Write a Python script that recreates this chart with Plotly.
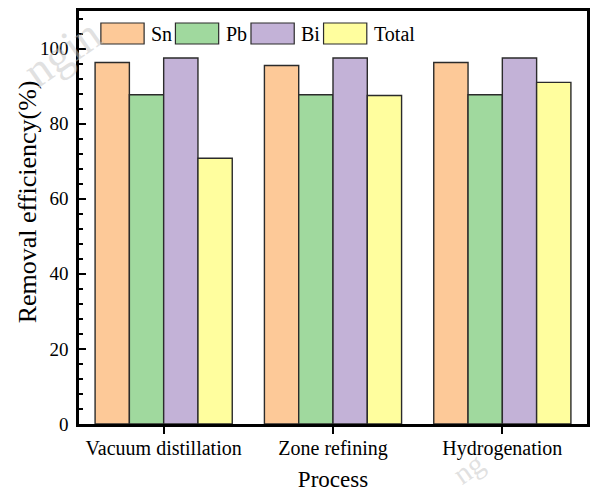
import plotly.graph_objects as go

# ---- data ----
processes = ["Vacuum distillation", "Zone refining", "Hydrogenation"]
sn = [96.3, 95.5, 96.3]
pb = [87.7, 87.7, 87.7]
bi = [97.5, 97.5, 97.5]
total = [70.8, 87.5, 91.0]
series_names = ["Sn", "Pb", "Bi", "Total"]
series_values = [sn, pb, bi, total]
colors = ["#FDC998", "#A0D99E", "#C3B2D7", "#FFFE9E"]
y_ticks = [0, 20, 40, 60, 80, 100]

W, H = 592, 494
L, R, T, B = 79, 2, 11, 70
PW, PH = W - L - R, H - T - B
FONT = "Liberation Serif, Times New Roman, serif"

fig = go.Figure()
for name, vals, c in zip(series_names, series_values, colors):
    fig.add_trace(go.Bar(
        x=processes, y=vals, name=name,
        marker=dict(color=c, line=dict(color="#2b2b2b", width=1.4)),
        showlegend=False,
    ))

def px2paper(x, y):
    return (x - L) / PW, (H - B - y) / PH

shapes = []
annotations = []
legend_x = [101, 176, 252, 325]
sw_w, y0p, y1p = 43.5, 23, 44
for name, c, lx in zip(series_names, colors, legend_x):
    xa, ya = px2paper(lx, y1p)
    xb, yb = px2paper(lx + sw_w, y0p)
    shapes.append(dict(type="rect", xref="paper", yref="paper",
                       x0=xa, y0=ya, x1=xb, y1=yb,
                       fillcolor=c, line=dict(color="#2b2b2b", width=1.2)))
    tx, ty = px2paper(lx + sw_w + 5, (y0p + y1p) / 2)
    annotations.append(dict(text=name, xref="paper", yref="paper", x=tx, y=ty,
                            xanchor="left", yanchor="middle", showarrow=False,
                            font=dict(family=FONT, size=20, color="black")))

# y-axis title as an annotation (positioned like the reference)
ytx, yty = px2paper(27, 202)
annotations.append(dict(text="Removal efficiency(%)", xref="paper", yref="paper",
                        x=ytx, y=yty, xanchor="center", yanchor="middle",
                        textangle=-90, showarrow=False,
                        font=dict(family=FONT, size=26, color="black")))

# faint watermark (kept inside the picture)
wx, wy = px2paper(62, 52)
annotations.append(dict(text="ngin", xref="paper", yref="paper", x=wx, y=wy,
                        xanchor="center", yanchor="middle", showarrow=False,
                        textangle=-35,
                        font=dict(family=FONT, size=46, color="rgba(195,195,195,0.5)")))
wx2, wy2 = px2paper(470, 468)
annotations.append(dict(text="ng", xref="paper", yref="paper", x=wx2, y=wy2,
                        xanchor="center", yanchor="middle", showarrow=False,
                        textangle=-35,
                        font=dict(family=FONT, size=30, color="rgba(195,195,195,0.5)")))

fig.update_layout(
    width=W, height=H,
    margin=dict(l=L, r=R, t=T, b=B, pad=0),
    paper_bgcolor="white", plot_bgcolor="white",
    barmode="group", bargap=0.19, bargroupgap=0,
    font=dict(family=FONT, color="black"),
    shapes=shapes, annotations=annotations,
    xaxis=dict(
        showline=True, linecolor="black", linewidth=2.5, mirror=True,
        ticks="outside", ticklen=7, tickwidth=2, tickcolor="black",
        tickfont=dict(family=FONT, size=20),
        ticklabelstandoff=-3,
        title=dict(text="Process", font=dict(family=FONT, size=23), standoff=13),
        showgrid=False,
    ),
    yaxis=dict(
        range=[0, 110], tickvals=y_ticks,
        showline=True, linecolor="black", linewidth=2.5, mirror=True,
        ticks="inside", ticklen=7, tickwidth=2, tickcolor="black",
        minor=dict(dtick=4, ticks="inside", ticklen=4, tickwidth=1.5, tickcolor="black"),
        tickfont=dict(family=FONT, size=19),
        ticklabelstandoff=4,
        showgrid=False, zeroline=False,
    ),
)

fig.write_html("out.html")
